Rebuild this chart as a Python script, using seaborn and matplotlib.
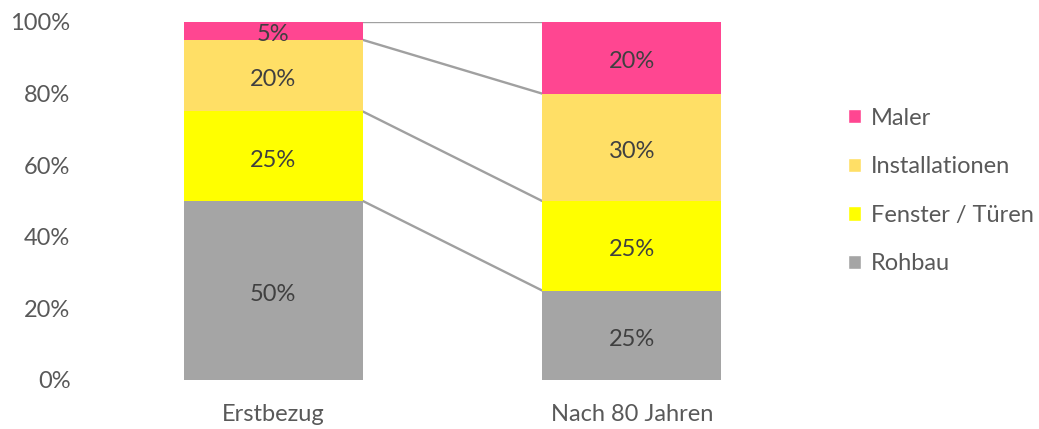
import numpy as np
import pandas as pd
import seaborn as sns
import matplotlib.pyplot as plt
from matplotlib.patches import Patch

categories = ["Erstbezug", "Nach 80 Jahren"]
components = ["Rohbau", "Fenster / Türen", "Installationen", "Maler"]
rohbau = [50, 25]
fenster = [25, 25]
install = [20, 30]
maler = [5, 20]
colors = ["#a5a5a5", "#ffff00", "#ffdf66", "#ff4691"]

values = np.array([rohbau, fenster, install, maler])
cum = values.cumsum(axis=0)

sns.set_style("white")
plt.rcParams["font.family"] = ["Lato", "DejaVu Sans"]

fig = plt.figure(figsize=(10.39, 4.29), dpi=100)
ax = fig.add_axes([94 / 1039, 1 - 380 / 429, (811 - 94) / 1039, (380 - 22) / 429])

# stacked bars: draw cumulative totals from the top segment down
for i in range(len(components) - 1, -1, -1):
    df = pd.DataFrame({"cat": categories, "val": cum[i]})
    sns.barplot(data=df, x="cat", y="val", color=colors[i], width=0.5,
                saturation=1, ax=ax, linewidth=0, zorder=2)

# connector lines between the bars
for i in range(len(components)):
    ax.plot([0.25, 0.75], [cum[i][0], cum[i][1]], color="#a0a0a0", lw=1.7, zorder=1)

# labels (nudged 2 px down like the original)
for i in range(len(components)):
    for j in range(len(categories)):
        ax.annotate(f"{values[i][j]}%", (j, cum[i][j] - values[i][j] / 2),
                    xytext=(0, -2), textcoords="offset pixels", ha="center",
                    va="center_baseline", fontsize=17, color="#404040", zorder=3)

ax.set_xlim(-0.5, 1.5)
ax.set_ylim(0, 100)
ax.set_yticks(range(0, 101, 20))
ax.set_yticklabels([f"{t}%" for t in range(0, 101, 20)])
ax.tick_params(axis="both", length=0, labelsize=17, labelcolor="#595959")
ax.tick_params(axis="y", pad=17)
ax.tick_params(axis="x", pad=17)
ax.set_xlabel("")
ax.set_ylabel("")
sns.despine(ax=ax, left=True, bottom=True)

handles = [Patch(facecolor=colors[i], label=components[i]) for i in range(len(components) - 1, -1, -1)]
fig.legend(handles=handles, loc="center left", bbox_to_anchor=(827 / 1039, 1 - 191 / 429),
           frameon=False, fontsize=17, labelcolor="#595959", handlelength=0.55,
           handleheight=0.55, handletextpad=0.4, labelspacing=1.17)

fig.savefig("out.png", dpi=100)
